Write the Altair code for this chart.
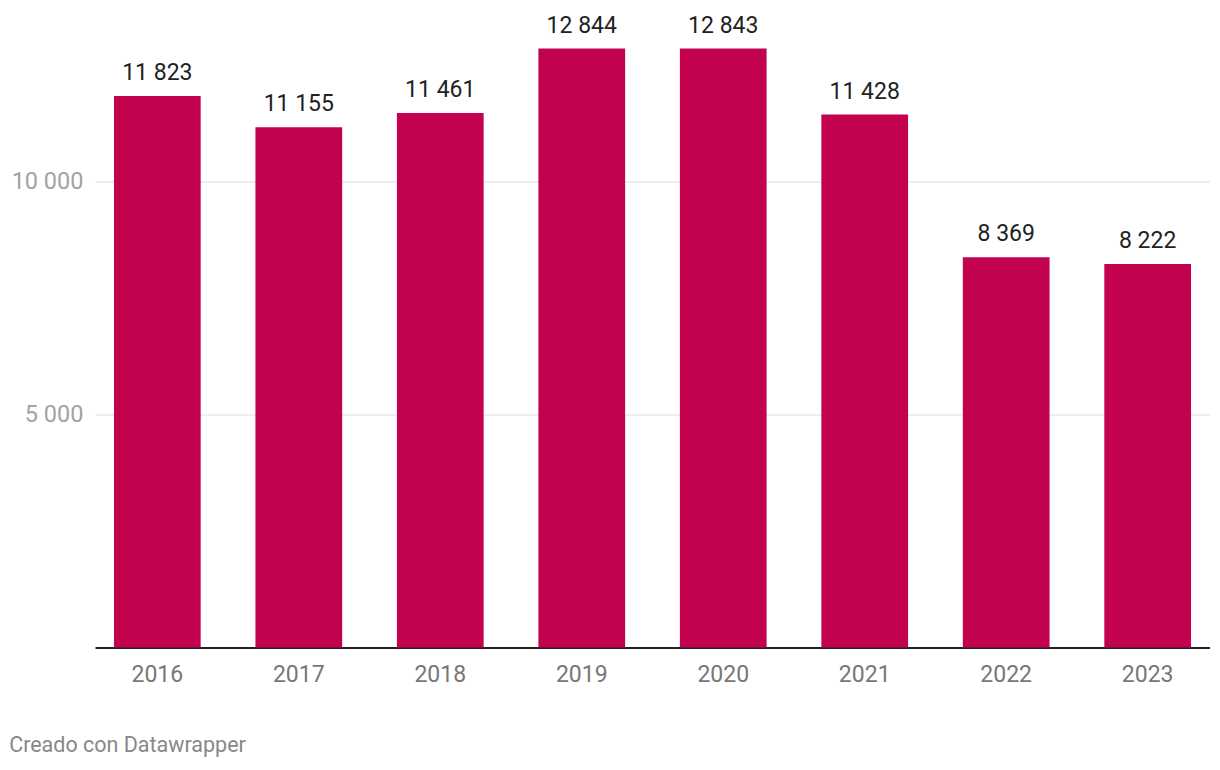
import altair as alt
import pandas as pd

years = ["2016", "2017", "2018", "2019", "2020", "2021", "2022", "2023"]
values = [11823, 11155, 11461, 12844, 12843, 11428, 8369, 8222]
y_ticks = [5000, 10000]
footer = "Creado con Datawrapper"

df = pd.DataFrame({"year": years, "value": values})
df["label"] = [f"{v:,}".replace(",", " ") for v in values]

FONT = "Roboto"

x = alt.X(
    "year:N",
    sort=years,
    scale=alt.Scale(paddingInner=0.387, paddingOuter=0.134),
    axis=alt.Axis(
        title=None,
        labelAngle=0,
        labelFont=FONT,
        labelFontSize=23,
        labelColor="#777777",
        labelPadding=16,
        ticks=False,
        domain=True,
        domainColor="#222222",
        domainWidth=2,
        grid=False,
    ),
)

y = alt.Y(
    "value:Q",
    scale=alt.Scale(domain=[0, 12844], nice=False, zero=True),
    axis=alt.Axis(
        title=None,
        values=y_ticks,
        labelExpr="replace(format(datum.value, ','), ',', ' ')",
        labelFont=FONT,
        labelFontSize=23.5,
        labelColor="#a3a3a3",
        labelPadding=12,
        ticks=False,
        domain=False,
        grid=True,
        gridColor="#dddddd",
        gridWidth=1,
    ),
)

bars = alt.Chart(df).mark_bar(color="#c2024f").encode(x=x, y=y)

labels = alt.Chart(df).mark_text(
    font=FONT, fontSize=23, color="#222222", baseline="alphabetic", dy=-16
).encode(x=alt.X("year:N", sort=years), y="value:Q", text="label:N")

chart = (
    alt.layer(bars, labels)
    .properties(
        width=1115,
        height=599,
        autosize=alt.AutoSizeParams(type="none"),
        padding={"left": 87, "top": 40.5, "right": 0, "bottom": 112},
        title=alt.TitleParams(
            text=footer,
            orient="bottom",
            anchor="start",
            frame="bounds",
            font=FONT,
            fontSize=21.5,
            fontWeight="normal",
            color="#888888",
            offset=48,
            dx=-2,
        ),
    )
    .configure_view(stroke=None)
)

chart.save("out.html", embed_options={"renderer": "svg", "actions": False})
